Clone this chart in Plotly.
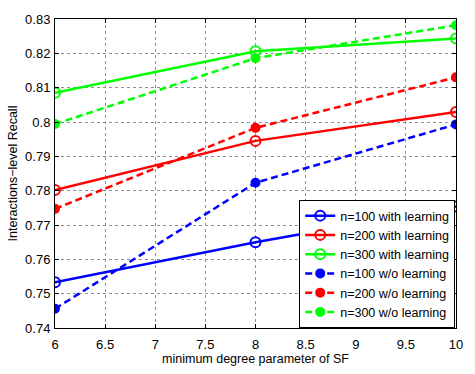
import plotly.graph_objects as go

x_vals = [6, 8, 10]
n100_with = [0.7533, 0.7650, 0.7754]
n200_with = [0.7802, 0.7945, 0.8029]
n300_with = [0.8085, 0.8206, 0.8243]
n100_wo = [0.7456, 0.7823, 0.7993]
n200_wo = [0.7747, 0.7983, 0.8130]
n300_wo = [0.7994, 0.8186, 0.8282]

names = ["n=100 with learning", "n=200 with learning", "n=300 with learning",
         "n=100 w/o learning", "n=200 w/o learning", "n=300 w/o learning"]
series = [n100_with, n200_with, n300_with, n100_wo, n200_wo, n300_wo]
colors = ["#0000ff", "#ff0000", "#00ff00", "#0000ff", "#ff0000", "#00ff00"]

fig = go.Figure()
for i, (nm, ys, c) in enumerate(zip(names, series, colors)):
    solid = i < 3
    fig.add_trace(go.Scatter(
        x=x_vals, y=ys, name=nm, mode="lines+markers",
        line=dict(color=c, width=2.5, dash="solid" if solid else "7px,4px"),
        marker=dict(symbol="circle-open" if solid else "circle", size=10 if solid else 8,
                    color=c, line=dict(color=c, width=2)),
    ))

font = "Liberation Sans, Arial, sans-serif"
axis_common = dict(showline=True, linecolor="black", linewidth=1, mirror="allticks",
                   ticks="inside", ticklen=4, tickcolor="black",
                   showgrid=True, gridcolor="#909090", griddash="dot", gridwidth=1,
                   zeroline=False, tickfont=dict(family=font, size=13, color="black"))

fig.update_layout(
    width=475, height=374,
    margin=dict(l=53, r=12, t=13, b=38),
    plot_bgcolor="white", paper_bgcolor="white",
    font=dict(family=font, color="black"),
    xaxis=dict(range=[6, 10], dtick=0.5, ticklabelstandoff=4,
               title=dict(text="minimum degree parameter of SF",
                          font=dict(size=12.5), standoff=2), **axis_common),
    yaxis=dict(range=[0.74, 0.83], dtick=0.01, tickformat="~g", ticklabelstandoff=1,
               title=dict(text="Interactions\u2212level Recall", font=dict(size=12.5), standoff=4),
               **axis_common),
    legend=dict(x=0.998, y=0.0, xanchor="right", yanchor="bottom",
                bgcolor="white", bordercolor="black", borderwidth=1,
                font=dict(size=12.5, family=font), tracegroupgap=0,
                itemwidth=30),
    showlegend=True,
)

fig.write_html("out.html")
